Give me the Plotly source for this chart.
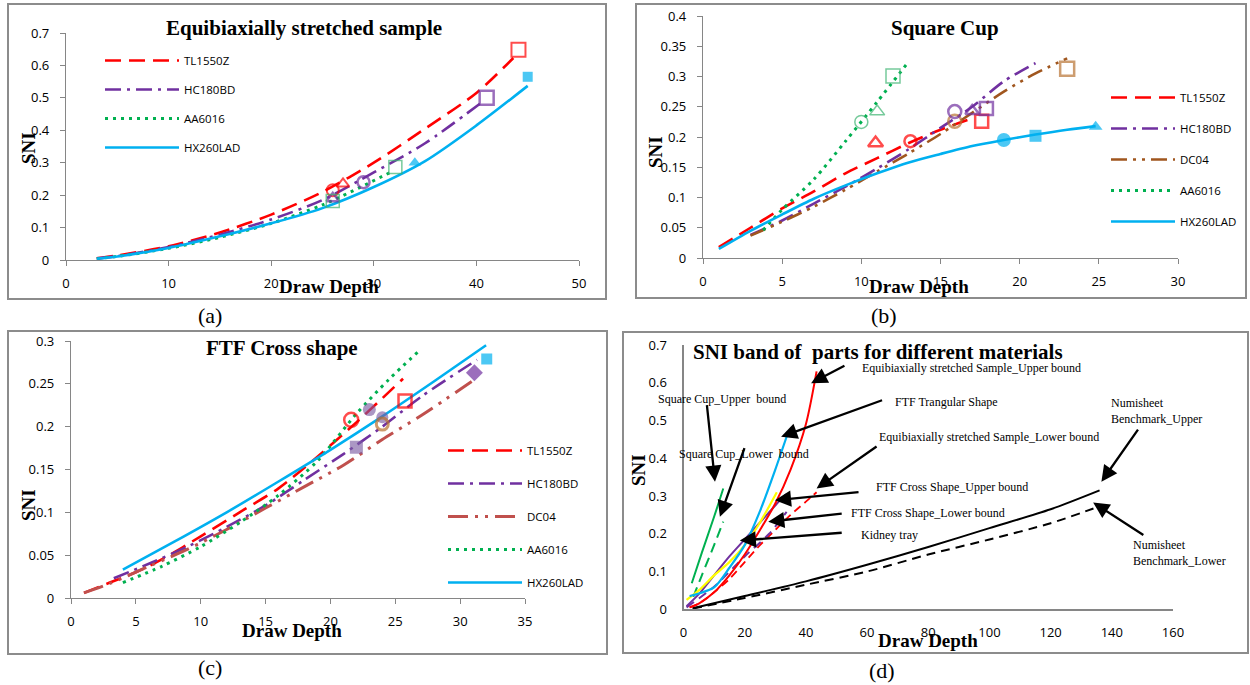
import plotly.graph_objects as go

W, H = 1250, 685

# ================= DATA =================
# (a) Equibiaxially stretched sample
a_tl_x = [3, 5, 10, 15, 20, 25, 30, 35, 40, 43.6]
a_tl_y = [0.005, 0.014, 0.042, 0.085, 0.14, 0.21, 0.30, 0.405, 0.515, 0.623]
a_hc_x = [3, 5, 10, 15, 20, 25, 30, 35, 40.6]
a_hc_y = [0.005, 0.012, 0.04, 0.078, 0.125, 0.185, 0.27, 0.36, 0.488]
a_aa_x = [3, 5, 10, 15, 20, 25, 31.6]
a_aa_y = [0.004, 0.011, 0.036, 0.07, 0.113, 0.17, 0.27]
a_hx_x = [3, 5, 10, 15, 20, 25, 30, 35, 40, 45]
a_hx_y = [0.004, 0.011, 0.037, 0.073, 0.113, 0.16, 0.225, 0.305, 0.415, 0.537]
a_tl_mx = [26, 27, 44.1]
a_tl_my = [0.215, 0.235, 0.648]
a_hc_mx = [26, 29, 41]
a_hc_my = [0.19, 0.24, 0.5]
a_aa_mx = [26, 32.1]
a_aa_my = [0.182, 0.287]
a_hx_mx = [34, 45]
a_hx_my = [0.30, 0.565]
a_xticks = [0, 10, 20, 30, 40, 50]
a_yticks = [0, 0.1, 0.2, 0.3, 0.4, 0.5, 0.6, 0.7]

# (b) Square Cup
b_tl_x = [1, 3, 5, 7, 9, 11, 13, 15, 16.7]
b_tl_y = [0.018, 0.05, 0.082, 0.11, 0.14, 0.165, 0.19, 0.212, 0.228]
b_hc_x = [3, 5, 7, 9, 11, 13, 15, 17, 19, 21]
b_hc_y = [0.038, 0.062, 0.09, 0.118, 0.148, 0.18, 0.215, 0.25, 0.292, 0.322]
b_dc_x = [3, 5, 7, 9, 11, 13, 15, 17, 19, 21, 23]
b_dc_y = [0.037, 0.06, 0.085, 0.113, 0.143, 0.173, 0.205, 0.24, 0.275, 0.305, 0.33]
b_aa_x = [3.8, 5, 7, 9, 11, 13]
b_aa_y = [0.046, 0.08, 0.13, 0.193, 0.258, 0.325]
b_hx_x = [1, 3, 5, 7, 9, 11, 13, 15, 17, 19, 21, 23, 24.8]
b_hx_y = [0.015, 0.045, 0.072, 0.098, 0.12, 0.14, 0.158, 0.172, 0.185, 0.195, 0.204, 0.212, 0.218]
b_tl_mx = [10.9, 13.1, 17.6]
b_tl_my = [0.19, 0.193, 0.226]
b_hc_mx = [15.9, 17, 17.9]
b_hc_my = [0.242, 0.243, 0.247]
b_dc_mx = [15.9, 23]
b_dc_my = [0.226, 0.313]
b_aa_mx = [10, 11, 12]
b_aa_my = [0.225, 0.242, 0.301]
b_hx_mx = [19, 21, 24.8]
b_hx_my = [0.195, 0.202, 0.217]
b_xticks = [0, 5, 10, 15, 20, 25, 30]
b_yticks = [0, 0.05, 0.1, 0.15, 0.2, 0.25, 0.3, 0.35, 0.4]

# (c) FTF Cross shape
c_tl_x = [1, 3, 5, 7, 10, 13, 16, 19, 22, 25.6]
c_tl_y = [0.006, 0.018, 0.03, 0.045, 0.072, 0.1, 0.128, 0.165, 0.205, 0.256]
c_hc_x = [3.3, 6, 9, 12, 15, 18, 21, 24, 27, 31.3]
c_hc_y = [0.023, 0.04, 0.06, 0.083, 0.108, 0.138, 0.168, 0.2, 0.235, 0.278]
c_dc_x = [1, 3, 6, 9, 12, 15, 18, 21, 24, 27, 31.1]
c_dc_y = [0.006, 0.017, 0.037, 0.057, 0.08, 0.105, 0.13, 0.155, 0.185, 0.213, 0.255]
c_aa_x = [4, 7, 10, 13, 16, 19, 22, 24.5, 26.8]
c_aa_y = [0.018, 0.037, 0.06, 0.088, 0.12, 0.16, 0.215, 0.255, 0.288]
c_hx_x = [4, 8, 12, 16, 20, 24, 28, 32]
c_hx_y = [0.033, 0.066, 0.1, 0.136, 0.173, 0.212, 0.253, 0.295]
c_tl_mx = [21.6, 25.75]
c_tl_my = [0.208, 0.23]
c_hc_mx = [22, 23, 24, 31.1]
c_hc_my = [0.176, 0.22, 0.211, 0.263]
c_dc_mx = [24]
c_dc_my = [0.203]
c_hx_mx = [32.05]
c_hx_my = [0.279]
c_xticks = [0, 5, 10, 15, 20, 25, 30, 35]
c_yticks = [0, 0.05, 0.1, 0.15, 0.2, 0.25, 0.3]

# (d) SNI band of parts for different materials
d_eq_up_x = [2, 5, 10, 15, 20, 25, 30, 35, 40, 43.5]
d_eq_up_y = [0.005, 0.015, 0.045, 0.09, 0.145, 0.21, 0.28, 0.37, 0.49, 0.63]
d_eq_lo_x = [2, 5, 10, 15, 20, 25, 30, 35, 40, 43.5]
d_eq_lo_y = [0.005, 0.015, 0.045, 0.08, 0.125, 0.17, 0.21, 0.25, 0.285, 0.31]
d_tri_x = [2, 5, 10, 15, 20, 25, 30, 33.7]
d_tri_y = [0.035, 0.042, 0.058, 0.11, 0.17, 0.26, 0.37, 0.457]
d_kid_x = [1, 5, 10, 15, 20, 25, 30.5]
d_kid_y = [0.025, 0.05, 0.09, 0.125, 0.17, 0.23, 0.31]
d_cr_up_x = [1, 5, 10, 15, 20, 25, 30, 33.5]
d_cr_up_y = [0.008, 0.04, 0.09, 0.14, 0.185, 0.23, 0.275, 0.305]
d_cr_lo_x = [1, 10, 20, 28, 33.7]
d_cr_lo_y = [0.005, 0.06, 0.14, 0.2, 0.258]
d_sq_up_x = [2.7, 6, 10, 13]
d_sq_up_y = [0.069, 0.15, 0.245, 0.32]
d_sq_lo_x = [3.2, 6, 10, 13]
d_sq_lo_y = [0.033, 0.09, 0.17, 0.232]
d_nb_up_x = [3, 20, 40, 60, 80, 100, 120, 136]
d_nb_up_y = [0.003, 0.035, 0.074, 0.118, 0.165, 0.215, 0.265, 0.315]
d_nb_lo_x = [3, 20, 40, 60, 80, 100, 120, 134]
d_nb_lo_y = [0.002, 0.03, 0.065, 0.1, 0.145, 0.185, 0.228, 0.267]
d_xticks = [0, 20, 40, 60, 80, 100, 120, 140, 160]
d_yticks = [0, 0.1, 0.2, 0.3, 0.4, 0.5, 0.6, 0.7]

d_labels = [
    "Equibiaxially stretched Sample_Upper bound",
    "FTF Trangular Shape",
    "Equibiaxially stretched Sample_Lower bound",
    "FTF Cross Shape_Upper bound",
    "FTF Cross Shape_Lower bound",
    "Kidney tray",
    "Square Cup_Upper\u00a0\u00a0bound",
    "Square Cup_Lower\u00a0\u00a0bound",
    "Numisheet<br>Benchmark_Upper",
    "Numisheet<br>Benchmark_Lower",
]
d_arrow_tail_x = [53.1, 65.4, 63.6, 57.7, 52.2, 52.2, 7.6, 20.1, 148.9, 150.8]
d_arrow_tail_y = [0.647, 0.555, 0.434, 0.311, 0.254, 0.203, 0.545, 0.431, 0.48, 0.194]
d_arrow_head_x = [41.7, 31.9, 43.5, 29.9, 27.7, 18.4, 10.3, 11.9, 136.6, 133.9]
d_arrow_head_y = [0.599, 0.457, 0.32, 0.289, 0.232, 0.182, 0.338, 0.245, 0.338, 0.283]

materials_ab = ["TL1550Z", "HC180BD", "DC04", "AA6016", "HX260LAD"]

# ================= STYLE HELPERS =================
def PX(xp):
    return xp / W

def PY(yp):
    return 1 - yp / H

RED, PURPLE, GREEN, CYAN = "#FF0000", "#7030A0", "#00B050", "#00B0F0"
BROWN_B, BROWN_C = "#A0561E", "#C0504D"
TL_LINE = dict(color=RED, width=2.6, dash="16px,8px", shape="spline", smoothing=0.8)
HC_LINE = dict(color=PURPLE, width=2.6, dash="16px,6px,3px,6px", shape="spline", smoothing=0.8)
AA_LINE = dict(color=GREEN, width=3, dash="3px,5px", shape="spline", smoothing=0.8)
HX_LINE = dict(color=CYAN, width=2.6, shape="spline", smoothing=0.8)

fig = go.Figure()

def line(x, y, ax, ln, name=None, legend=None):
    ln = dict(ln)
    ln.setdefault("shape", "spline")
    ln.setdefault("smoothing", 0.8)
    fig.add_trace(go.Scatter(
        x=x, y=y, mode="lines", line=ln, name=name,
        showlegend=name is not None, legend=legend, legendgroup=(legend or "") + (name or ""),
        xaxis="x" + ax, yaxis="y" + ax, hoverinfo="skip"))

def marks(x, y, ax, color, symbols, sizes, width=2, opacity=1):
    fig.add_trace(go.Scatter(
        x=x, y=y, mode="markers", showlegend=False, xaxis="x" + ax, yaxis="y" + ax,
        opacity=opacity, hoverinfo="skip",
        marker=dict(symbol=symbols, size=sizes, color=color, line=dict(width=width, color=color))))

# ---- (a)
line(a_tl_x, a_tl_y, "", TL_LINE, materials_ab[0], "legend")
line(a_hc_x, a_hc_y, "", HC_LINE, materials_ab[1], "legend")
line(a_aa_x, a_aa_y, "", AA_LINE, materials_ab[3], "legend")
line(a_hx_x, a_hx_y, "", HX_LINE, materials_ab[4], "legend")
marks(a_tl_mx, a_tl_my, "", RED, ["circle-open", "triangle-up-open", "square-open"], [12, 11, 14])
marks(a_hc_mx, a_hc_my, "", PURPLE, ["triangle-up-open", "circle-open", "square-open"], [11, 12, 14], 2.5)
marks(a_aa_mx, a_aa_my, "", "#3CB371", ["square-open", "square-open"], [13, 13], 1.5)
marks(a_hx_mx, a_hx_my, "", CYAN, ["triangle-up", "square"], [11, 10], 0)

# ---- (b)
line(b_tl_x, b_tl_y, "2", TL_LINE, materials_ab[0], "legend2")
line(b_hc_x, b_hc_y, "2", HC_LINE, materials_ab[1], "legend2")
line(b_dc_x, b_dc_y, "2", dict(color=BROWN_B, width=2.6, dash="16px,6px,3px,6px,3px,6px"), materials_ab[2], "legend2")
line(b_aa_x, b_aa_y, "2", AA_LINE, materials_ab[3], "legend2")
line(b_hx_x, b_hx_y, "2", HX_LINE, materials_ab[4], "legend2")
marks(b_tl_mx, b_tl_my, "2", RED, ["triangle-up-open", "circle-open", "square-open"], [13, 12, 13], 2.5)
marks(b_dc_mx, b_dc_my, "2", "#B87333", ["circle-open", "square-open"], [13, 14], 2.5)
marks(b_hc_mx, b_hc_my, "2", PURPLE, ["circle-open", "triangle-up-open", "square-open"], [13, 12, 13], 2.5)
marks(b_aa_mx, b_aa_my, "2", "#3CB371", ["circle-open", "triangle-up-open", "square-open"], [13, 13, 14], 1.5)
marks(b_hx_mx, b_hx_my, "2", CYAN, ["circle", "square", "triangle-up"], [14, 12, 12], 0)

# ---- (c)
line(c_tl_x, c_tl_y, "3", TL_LINE, materials_ab[0], "legend3")
line(c_hc_x, c_hc_y, "3", HC_LINE, materials_ab[1], "legend3")
line(c_dc_x, c_dc_y, "3", dict(color=BROWN_C, width=3, dash="20px,7px,3px,7px,3px,7px"), materials_ab[2], "legend3")
line(c_aa_x, c_aa_y, "3", AA_LINE, materials_ab[3], "legend3")
line(c_hx_x, c_hx_y, "3", HX_LINE, materials_ab[4], "legend3")
marks(c_tl_mx, c_tl_my, "3", RED, ["circle-open", "square-open"], [14, 13], 2.5)
marks(c_hc_mx, c_hc_my, "3", "#7A5BA3", ["square", "circle", "circle"], [13, 13, 12], 0, 0.9)
marks([c_hc_mx[3]], [c_hc_my[3]], "3", PURPLE, ["diamond"], [13], 0)
marks(c_dc_mx, c_dc_my, "3", "#B8702E", ["circle-open"], [12], 3)
marks(c_hx_mx, c_hx_my, "3", CYAN, ["square"], [11], 0)

# ---- (d)
line(d_nb_up_x, d_nb_up_y, "4", dict(color="black", width=2))
line(d_nb_lo_x, d_nb_lo_y, "4", dict(color="black", width=2, dash="9px,6px"))
line(d_eq_lo_x, d_eq_lo_y, "4", dict(color=RED, width=1.8, dash="8px,5px"))
line(d_cr_lo_x, d_cr_lo_y, "4", dict(color=PURPLE, width=2, dash="9px,6px"))
line(d_sq_lo_x, d_sq_lo_y, "4", dict(color=GREEN, width=2, dash="10px,6px"))
line(d_sq_up_x, d_sq_up_y, "4", dict(color=GREEN, width=2))
line(d_cr_up_x, d_cr_up_y, "4", dict(color=PURPLE, width=2))
line(d_kid_x, d_kid_y, "4", dict(color="#FFFF00", width=2.2))
line(d_tri_x, d_tri_y, "4", dict(color=CYAN, width=2.2))
line(d_eq_up_x, d_eq_up_y, "4", dict(color=RED, width=2))

# ================= AXES =================
AXC = "#868686"
TICKF = dict(family="Open Sans", size=13, color="black")

def ax(domain, rng, vals, ticks=True, lw=1.3, standoff=6):
    return dict(domain=domain, range=rng, tickvals=vals, showline=True, linecolor=AXC,
                linewidth=lw, ticks="outside" if ticks else "", ticklen=5, tickcolor=AXC,
                tickwidth=1.3, showgrid=False, zeroline=False, tickfont=TICKF,
                ticklabelstandoff=standoff, fixedrange=True, mirror=False)

fig.update_layout(
    xaxis=ax([PX(66), PX(579)], [0, 50], a_xticks, standoff=6),
    yaxis=ax([PY(260), PY(33)], [0, 0.7], a_yticks, standoff=8),
    xaxis2=ax([PX(703), PX(1178)], [0, 30], b_xticks, standoff=6),
    yaxis2=ax([PY(258), PY(16)], [0, 0.4], b_yticks, standoff=8),
    xaxis3=ax([PX(71), PX(525)], [0, 35], c_xticks, standoff=6),
    yaxis3=ax([PY(598), PY(341)], [0, 0.3], c_yticks, standoff=8),
    xaxis4=ax([PX(683.5), PX(1173)], [0, 160], d_xticks, ticks=False, lw=2, standoff=10),
    yaxis4=ax([PY(609.3), PY(345)], [0, 0.7], d_yticks, ticks=False, lw=2, standoff=12),
)
for k in ["xaxis2", "xaxis3", "xaxis4"]:
    fig.layout[k].anchor = "y" + k[-1]
for k in ["yaxis2", "yaxis3", "yaxis4"]:
    fig.layout[k].anchor = "x" + k[-1]

# ================= LEGENDS =================
def leg(x, y, itemwidth, gap):
    return dict(x=PX(x), y=PY(y), xanchor="left", yanchor="top", bgcolor="rgba(0,0,0,0)",
                borderwidth=0, itemwidth=itemwidth, tracegroupgap=gap,
                font=dict(family="Open Sans", size=11.5, color="black"),
                itemclick=False, itemdoubleclick=False)

fig.update_layout(
    legend=leg(100, 46, 74, 10),
    legend2=leg(1106, 83, 64, 12),
    legend3=leg(443, 436, 74, 14),
)

# ================= FRAMES & TEXT =================
shapes = []
for (x0, y0, x1, y1) in [(8, 4, 606, 299), (636, 4, 1246, 298), (8, 331, 607, 654), (623, 332, 1248, 653)]:
    shapes.append(dict(type="rect", xref="paper", yref="paper", x0=PX(x0), x1=PX(x1),
                       y0=PY(y1), y1=PY(y0), line=dict(color="#8C8C8C", width=2), fillcolor="rgba(0,0,0,0)"))
fig.update_layout(shapes=shapes)

ann = []
SERIF = "Liberation Serif"

def text(t, x, y, size, bold=False, xanchor="center", rot=0, align="center"):
    ann.append(dict(text="<b>" + t + "</b>" if bold else t, x=PX(x), y=PY(y), xref="paper", yref="paper",
                    showarrow=False, xanchor=xanchor, yanchor="middle", textangle=rot, align=align,
                    font=dict(family=SERIF, size=size, color="black")))

# titles
text("Equibiaxially stretched sample", 304, 28, 21, True)
text("Square Cup", 945, 28, 21, True)
text("FTF Cross shape", 282, 348, 21, True)
text("SNI band of\u00a0\u00a0parts for different materials", 878, 352, 21, True)
# axis titles
for (x, y) in [(329, 286), (919, 286), (292, 630), (928, 640)]:
    text("Draw Depth", x, y, 19, True)
for (x, y) in [(28, 148), (655, 152), (28, 505), (638, 470)]:
    text("SNI", x, y, 19, True, rot=-90)
# captions
for (t, x, y) in [("(a)", 210, 316), ("(b)", 884, 316), ("(c)", 210, 667), ("(d)", 882, 670)]:
    text(t, x, y, 22)

# (d) labels
d_text_pos = [(860, 368), (893, 402), (877, 437), (874, 487), (849, 513), (859, 535),
              (656, 399), (677, 454), (1109, 411), (1131, 553)]
for lab, (x, y) in zip(d_labels, d_text_pos):
    text(lab, x, y, 12, xanchor="left", align="left")

for tx, ty, hx, hy in zip(d_arrow_tail_x, d_arrow_tail_y, d_arrow_head_x, d_arrow_head_y):
    ann.append(dict(text="", x=hx, y=hy, ax=tx, ay=ty, xref="x4", yref="y4", axref="x4", ayref="y4",
                    showarrow=True, arrowhead=2, arrowsize=1.4, arrowwidth=2.3, arrowcolor="black"))

fig.update_layout(annotations=ann)

fig.update_layout(width=W, height=H, margin=dict(l=0, r=0, t=0, b=0),
                  paper_bgcolor="white", plot_bgcolor="white", template="none",
                  showlegend=True, hovermode=False)

fig.write_html("out.html", config={"displayModeBar": False},
               post_script="document.body.style.margin='0px';document.body.style.overflow='hidden';")
